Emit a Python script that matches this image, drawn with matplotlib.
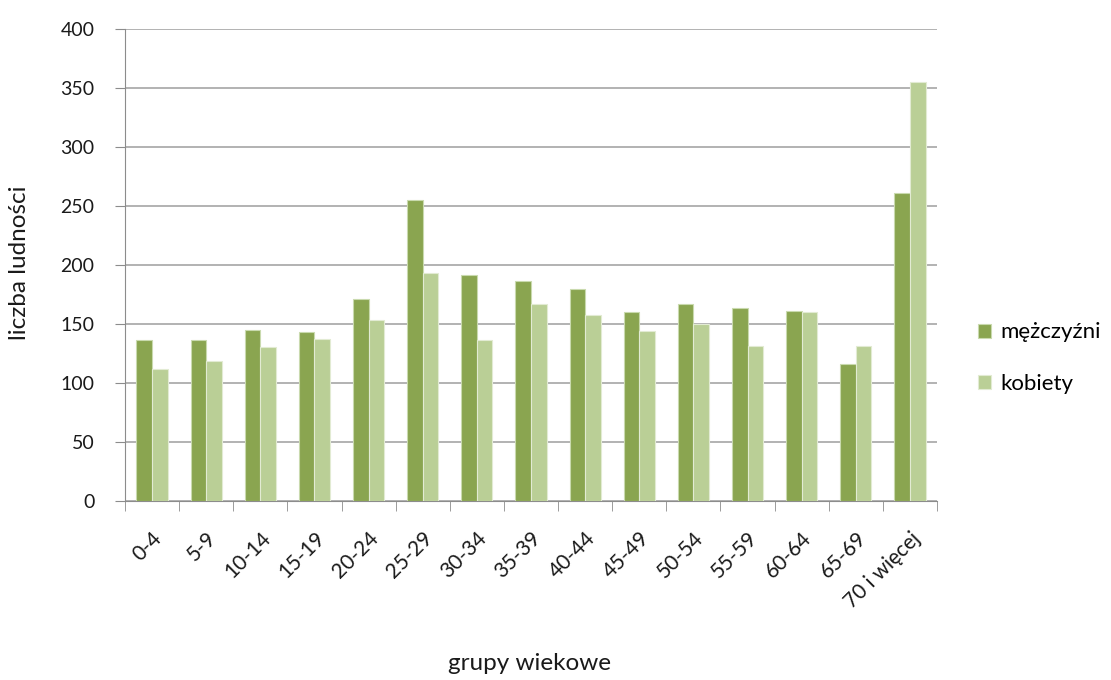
import matplotlib
matplotlib.use("Agg")
import matplotlib.pyplot as plt
import numpy as np

categories = ["0-4", "5-9", "10-14", "15-19", "20-24", "25-29", "30-34", "35-39",
              "40-44", "45-49", "50-54", "55-59", "60-64", "65-69", "70 i więcej"]
mezczyzni = [136, 136, 145, 143, 171, 255, 191, 186, 179, 160, 167, 163, 161, 116, 261]
kobiety = [112, 118, 130, 137, 153, 193, 136, 167, 157, 144, 150, 131, 160, 131, 355]
y_ticks = [0, 50, 100, 150, 200, 250, 300, 350, 400]

plt.rcParams['font.family'] = ['Lato', 'DejaVu Sans']

fig = plt.figure(figsize=(11.11, 6.80), dpi=100)
ax = fig.add_axes([125/1111, 1 - 500.7/680, (937-125)/1111, (500.7-28.7)/680])

x = np.arange(len(categories))
w = 0.288
dark = '#8AA550'
light = '#BACF96'
ax.bar(x - w/2, mezczyzni, width=w, color=dark, edgecolor='#C9DAAE', linewidth=0.8, label='mężczyźni', zorder=3)
ax.bar(x + w/2, kobiety, width=w, color=light, edgecolor='#E2EBD3', linewidth=0.8, label='kobiety', zorder=3)

ax.set_xlim(-0.5, len(categories) - 0.5)
ax.set_ylim(0, 400)
ax.set_yticks(y_ticks)
ax.yaxis.grid(True, color='#A6A6A6', linewidth=1.2, zorder=0)
ax.set_axisbelow(True)
for s in ['top', 'right']:
    ax.spines[s].set_visible(False)
ax.spines['left'].set_color('#8C8C8C')
ax.spines['bottom'].set_color('#8C8C8C')
ax.tick_params(axis='y', length=7, color='#8C8C8C', labelsize=14, pad=15, labelcolor='#1a1a1a')

ax.set_xticks(x)
ax.set_xticklabels(categories, rotation=45, ha='right', rotation_mode='anchor', fontsize=15, color='#1a1a1a')
ax.tick_params(axis='x', length=0, pad=20)
ax.set_xticks(np.arange(-0.5, len(categories), 1), minor=True)
ax.tick_params(axis='x', which='minor', length=7, color='#8C8C8C')

fig.text(20/1111, 1 - 263/680, 'liczba ludności', rotation=90, ha='center', va='center', fontsize=17.5, color='#1a1a1a')
fig.text(530/1111, 1 - 664/680, 'grupy wiekowe', ha='center', va='center', fontsize=17.5, color='#1a1a1a')

leg = ax.legend(loc='center left', bbox_to_anchor=(958/1111, 1 - 358/680), bbox_transform=fig.transFigure,
                frameon=False, fontsize=16, handlelength=0.6, handleheight=0.6, labelspacing=1.4, handletextpad=0.4)

fig.savefig('out.png', dpi=100)
